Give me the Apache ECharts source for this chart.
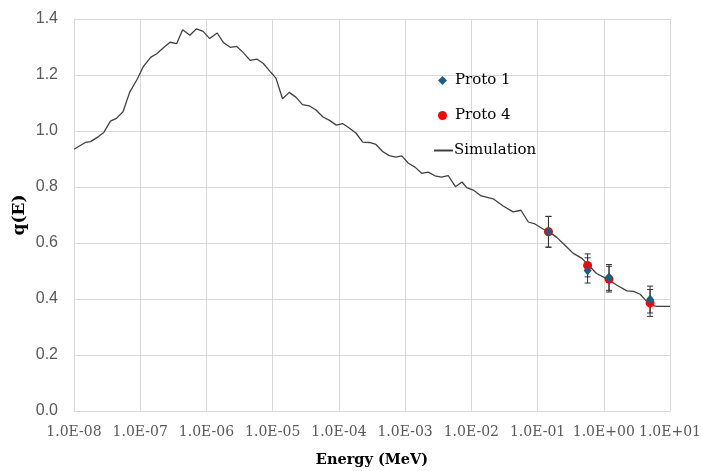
<!DOCTYPE html>
<html>
<head>
<meta charset="utf-8">
<script src="https://cdn.jsdelivr.net/npm/echarts@6/dist/echarts.min.js"></script>
<style>html,body{margin:0;padding:0;background:#fff}#c{width:701px;height:471px}</style>
</head>
<body>
<div id="c"></div>
<script>
// Simulation curve: energy (MeV) and q(E)
var simEnergy = [1.0e-8,1.48e-8,1.78e-8,2.34e-8,2.82e-8,3.55e-8,4.37e-8,5.50e-8,6.92e-8,8.91e-8,
  1.12e-7,1.45e-7,1.78e-7,2.24e-7,2.82e-7,3.55e-7,4.37e-7,5.62e-7,7.08e-7,8.91e-7,
  1.12e-6,1.45e-6,1.82e-6,2.29e-6,2.88e-6,3.63e-6,4.57e-6,5.75e-6,7.24e-6,9.12e-6,
  1.12e-5,1.41e-5,1.78e-5,2.24e-5,2.82e-5,3.55e-5,4.47e-5,5.75e-5,7.24e-5,9.12e-5,
  1.15e-4,1.45e-4,1.82e-4,2.29e-4,2.88e-4,3.63e-4,4.57e-4,5.75e-4,7.24e-4,8.91e-4,
  1.12e-3,1.41e-3,1.78e-3,2.24e-3,2.82e-3,3.55e-3,4.47e-3,5.75e-3,7.24e-3,8.51e-3,
  1.07e-2,1.41e-2,2.14e-2,3.02e-2,4.27e-2,5.62e-2,7.24e-2,9.12e-2,
  0.123,0.155,0.195,0.257,0.347,0.468,0.575,0.776,1.10,1.58,2.24,2.82,3.55,4.27,5.01,6.31,10.0];
var simQ = [0.935,0.959,0.962,0.980,0.995,1.035,1.045,1.069,1.138,1.183,
  1.231,1.264,1.276,1.297,1.317,1.312,1.362,1.342,1.365,1.356,
  1.330,1.350,1.315,1.299,1.302,1.279,1.252,1.257,1.241,1.213,
  1.189,1.115,1.138,1.121,1.094,1.090,1.076,1.050,1.038,1.021,
  1.026,1.010,0.992,0.960,0.959,0.952,0.927,0.912,0.907,0.911,
  0.885,0.871,0.849,0.853,0.840,0.835,0.841,0.801,0.818,0.798,
  0.789,0.768,0.758,0.732,0.711,0.717,0.675,0.668,
  0.649,0.637,0.620,0.593,0.563,0.545,0.523,0.491,0.473,0.449,0.429,0.427,0.417,0.396,0.378,0.374,0.374];

// Measurements
var proto1Energy = [0.146, 0.57, 1.2, 5.0];
var proto1Q      = [0.640, 0.502, 0.477, 0.398];
var proto1Err    = [0.055, 0.045, 0.046, 0.048];
var proto4Energy = [0.146, 0.57, 1.2, 5.0];
var proto4Q      = [0.640, 0.520, 0.471, 0.386];
var proto4Err    = [0.055, 0.041, 0.046, 0.048];

var yTicks = [0, 0.2, 0.4, 0.6, 0.8, 1.0, 1.2, 1.4];

function zip(a, b) { return a.map(function (v, i) { return [v, b[i]]; }); }
function errData(e, q, err) { return e.map(function (v, i) { return [v, q[i] - err[i], q[i] + err[i]]; }); }

function errRender(params, api) {
  var x = api.value(0);
  var lo = api.coord([x, api.value(1)]);
  var hi = api.coord([x, api.value(2)]);
  var w = 3;
  var st = { stroke: '#333', lineWidth: 1, fill: null };
  return {
    type: 'group',
    children: [
      { type: 'line', shape: { x1: lo[0], y1: lo[1], x2: hi[0], y2: hi[1] }, style: st },
      { type: 'line', shape: { x1: lo[0] - w, y1: lo[1], x2: lo[0] + w, y2: lo[1] }, style: st },
      { type: 'line', shape: { x1: hi[0] - w, y1: hi[1], x2: hi[0] + w, y2: hi[1] }, style: st }
    ]
  };
}

function fmtE(v) {
  var e = Math.round(Math.log10(v));
  var a = Math.abs(e);
  return '1.0E' + (e < 0 ? '-' : '+') + (a < 10 ? '0' : '') + a;
}

var chart = echarts.init(document.getElementById('c'), null, { renderer: 'canvas' });
chart.setOption({
  animation: false,
  backgroundColor: '#ffffff',
  grid: { left: 74, right: 31, top: 19, bottom: 60, outerBoundsMode: 'none', containLabel: false },
  legend: [
    {
      left: 438, top: 73, orient: 'vertical', padding: 0, itemGap: 20,
      itemWidth: 9, itemHeight: 9, itemStyle: { borderWidth: 0 },
      textStyle: { fontFamily: 'DejaVu Serif', fontSize: 15, color: '#000', padding: [0, 0, 0, 3] },
      data: [{ name: 'Proto 1', icon: 'diamond' }, { name: 'Proto 4', icon: 'circle' }]
    },
    {
      left: 433, top: 143, orient: 'vertical', padding: 0, itemGap: 0,
      itemWidth: 19, itemHeight: 10,
      textStyle: { fontFamily: 'DejaVu Serif', fontSize: 15, color: '#000', padding: [0, 0, 0, -4] },
      data: [{ name: 'Simulation', itemStyle: { opacity: 0 } }]
    }
  ],
  xAxis: {
    type: 'log', logBase: 10, min: 1e-8, max: 10, interval: 1, splitNumber: 9,
    name: 'Energy (MeV)', nameLocation: 'middle', nameGap: 42, nameMoveOverlap: false,
    nameTextStyle: { fontFamily: 'DejaVu Serif', fontWeight: 'bold', fontSize: 14.5, color: '#000' },
    axisLine: { show: true, lineStyle: { color: '#d9d9d9', width: 1 } },
    axisTick: { show: false },
    axisLabel: { formatter: fmtE, margin: 14, fontFamily: 'DejaVu Serif', fontSize: 14, color: '#595959' },
    splitLine: { show: true, lineStyle: { color: '#d9d9d9', width: 1 } },
    minorTick: { show: false }, minorSplitLine: { show: false }
  },
  yAxis: {
    type: 'value', min: yTicks[0], max: yTicks[yTicks.length - 1], interval: 0.2,
    name: 'q(E)', nameLocation: 'middle', nameGap: 46, nameRotate: 90, nameMoveOverlap: false,
    nameTextStyle: { fontFamily: 'DejaVu Serif', fontWeight: 'bold', fontSize: 17, color: '#000' },
    axisLine: { show: true, lineStyle: { color: '#d9d9d9', width: 1 } },
    axisTick: { show: false },
    axisLabel: { formatter: function (v) { return v.toFixed(1); }, margin: 16,
      fontFamily: 'Liberation Sans', fontSize: 16, color: '#595959' },
    splitLine: { show: true, lineStyle: { color: '#d9d9d9', width: 1 } }
  },
  series: [
    {
      name: 'Simulation', type: 'line', data: zip(simEnergy, simQ),
      symbol: 'none', showSymbol: false, smooth: false,
      lineStyle: { color: '#404040', width: 1.3 }, itemStyle: { color: '#404040' }, z: 3
    },
    {
      name: 'Proto 4 err', type: 'custom', renderItem: errRender,
      data: errData(proto4Energy, proto4Q, proto4Err), z: 4, silent: true
    },
    {
      name: 'Proto 1 err', type: 'custom', renderItem: errRender,
      data: errData(proto1Energy, proto1Q, proto1Err), z: 4, silent: true
    },
    {
      name: 'Proto 4', type: 'scatter', data: zip(proto4Energy, proto4Q),
      symbol: 'circle', symbolSize: 9, itemStyle: { color: '#ff0000', opacity: 1 }, z: 5
    },
    {
      name: 'Proto 1', type: 'scatter', data: zip(proto1Energy, proto1Q),
      symbol: 'diamond', symbolSize: [8, 10], itemStyle: { color: '#1b5e80', opacity: 1 }, z: 6
    }
  ]
});
</script>
</body>
</html>
